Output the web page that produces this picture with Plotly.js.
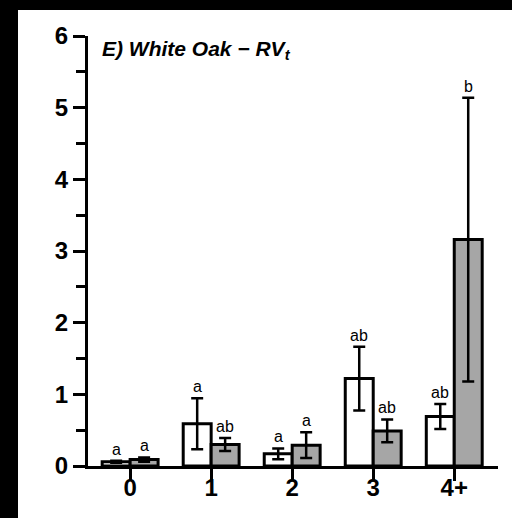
<!DOCTYPE html>
<html>
<head>
<meta charset="utf-8">
<script src="https://cdn.plot.ly/plotly-3.0.1.min.js"></script>
<style>
html,body{margin:0;padding:0;background:#000;width:512px;height:518px;overflow:hidden;}
#plot{position:absolute;left:18px;top:10px;width:494px;height:508px;background:#fff;}
</style>
</head>
<body>
<div id="plot"></div>
<script>
// Data
const categories = ['0', '1', '2', '3', '4+'];
const whiteMeans = [0.06, 0.59, 0.17, 1.22, 0.69];
const whiteErr   = [0.015, 0.355, 0.075, 0.445, 0.175];
const greyMeans  = [0.09, 0.30, 0.29, 0.49, 3.16];
const greyErr    = [0.03, 0.09, 0.18, 0.16, 1.98];
const whiteLetters = ['a', 'a', 'a', 'ab', 'ab'];
const greyLetters  = ['a', 'ab', 'a', 'ab', 'b'];
const yTickVals = [0, 1, 2, 3, 4, 5, 6];
const panelTitle = '<b><i>E) White Oak − RV<sub>t</sub></i></b>';

const FONT = 'Liberation Sans, Arial, Helvetica, sans-serif';
const barOffsetPx = 14;

function barTrace(means, errs, fill) {
  return {
    type: 'bar',
    x: categories,
    y: means,
    marker: {color: fill, line: {color: '#000', width: 3}},
    error_y: {type: 'data', array: errs, symmetric: true, visible: true,
              color: '#000', thickness: 2.5, width: 6},
    hoverinfo: 'skip',
    showlegend: false
  };
}

const data = [
  barTrace(whiteMeans, whiteErr, '#ffffff'),
  barTrace(greyMeans, greyErr, '#a6a6a6')
];

const annotations = [];
categories.forEach((c, i) => {
  annotations.push({x: c, y: whiteMeans[i] + whiteErr[i], xref: 'x', yref: 'y',
    text: whiteLetters[i], showarrow: false, xanchor: 'center', yanchor: 'bottom',
    xshift: -barOffsetPx, yshift: 1, font: {family: FONT, size: 16, color: '#000'}});
  annotations.push({x: c, y: greyMeans[i] + greyErr[i], xref: 'x', yref: 'y',
    text: greyLetters[i], showarrow: false, xanchor: 'center', yanchor: 'bottom',
    xshift: barOffsetPx, yshift: 1, font: {family: FONT, size: 16, color: '#000'}});
});
annotations.push({x: 0, y: 1, xref: 'paper', yref: 'paper', text: panelTitle,
  showarrow: false, xanchor: 'left', yanchor: 'top', xshift: 12, yshift: 1,
  font: {family: FONT, size: 21, color: '#000'}});

const layout = {
  width: 494, height: 508,
  paper_bgcolor: '#fff', plot_bgcolor: '#fff',
  margin: {l: 70, r: 14, t: 26, b: 52, pad: 0},
  barmode: 'group', bargap: 0.31, bargroupgap: 0,
  font: {family: FONT, color: '#000'},
  xaxis: {
    type: 'category', range: [-0.52, 4.54],
    showline: true, linecolor: '#000', linewidth: 3,
    ticks: 'outside', ticklen: 12, tickwidth: 3, tickcolor: '#000',
    ticklabelstandoff: -14,
    tickfont: {family: FONT, size: 24, weight: 'bold', color: '#000'},
    showgrid: false, zeroline: false, fixedrange: true
  },
  yaxis: {
    range: [0, 6], tickvals: yTickVals,
    showline: true, linecolor: '#000', linewidth: 3,
    ticks: 'outside', ticklen: 12, tickwidth: 3, tickcolor: '#000',
    minor: {dtick: 0.5, ticks: 'outside', ticklen: 9, tickwidth: 3, tickcolor: '#000', showgrid: false},
    tickfont: {family: FONT, size: 24, weight: 'bold', color: '#000'},
    showgrid: false, zeroline: false, fixedrange: true
  },
  annotations: annotations
};

Plotly.newPlot('plot', data, layout, {displayModeBar: false, staticPlot: true});
</script>
</body>
</html>
